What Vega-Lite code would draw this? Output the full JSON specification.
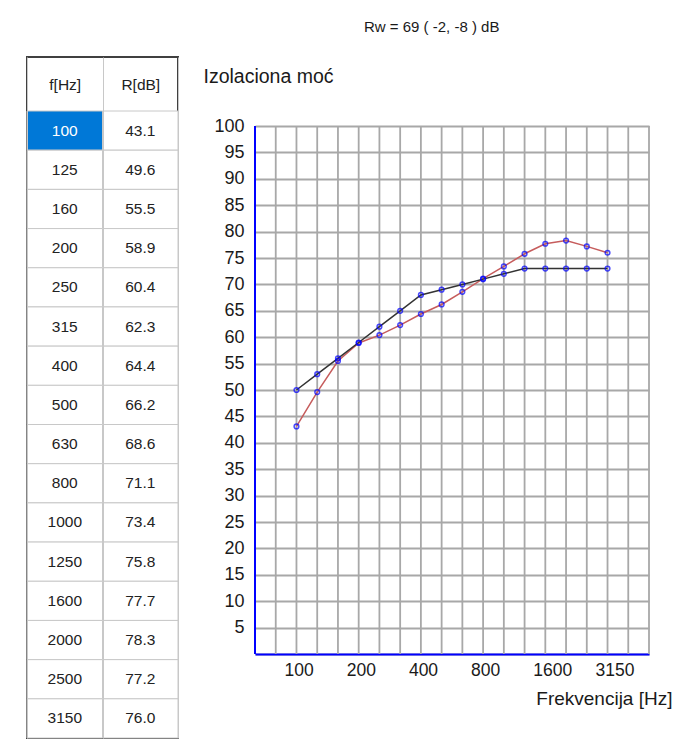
{
  "$schema": "https://vega.github.io/schema/vega-lite/v6.json",
  "background": "white",
  "padding": {"left": 25, "top": 20, "right": 0, "bottom": 0},
  "config": {"font": "Liberation Sans", "axisY": {"labelOverlap": false}},
  "title": {"text": "Rw = 69 ( -2, -8 ) dB", "anchor": "start", "frame": "group", "dx": 337, "offset": 21, "fontSize": 15, "fontWeight": "normal", "color": "#1a1a1a"},
  "datasets": {
    "d": [
      {"f": 100, "R": 43.1, "ref": 50},
      {"f": 125, "R": 49.6, "ref": 53},
      {"f": 160, "R": 55.5, "ref": 56},
      {"f": 200, "R": 58.9, "ref": 59},
      {"f": 250, "R": 60.4, "ref": 62},
      {"f": 315, "R": 62.3, "ref": 65},
      {"f": 400, "R": 64.4, "ref": 68},
      {"f": 500, "R": 66.2, "ref": 69},
      {"f": 630, "R": 68.6, "ref": 70},
      {"f": 800, "R": 71.1, "ref": 71},
      {"f": 1000, "R": 73.4, "ref": 72},
      {"f": 1250, "R": 75.8, "ref": 73},
      {"f": 1600, "R": 77.7, "ref": 73},
      {"f": 2000, "R": 78.3, "ref": 73},
      {"f": 2500, "R": 77.2, "ref": 73},
      {"f": 3150, "R": 76.0, "ref": 73}
    ],
    "grid": [
      {"f": 63}, {"f": 80}, {"f": 100}, {"f": 125}, {"f": 160}, {"f": 200}, {"f": 250}, {"f": 315}, {"f": 400}, {"f": 500},
      {"f": 630}, {"f": 800}, {"f": 1000}, {"f": 1250}, {"f": 1600}, {"f": 2000}, {"f": 2500}, {"f": 3150}, {"f": 4000}, {"f": 5000}
    ]
  },
  "columns": 2,
  "align": "none",
  "spacing": 23,
  "concat": [
    {
      "width": 151,
      "height": 681,
      "data": {"name": "d"},
      "view": {"stroke": "#404040", "strokeWidth": 2},
      "encoding": {
        "y": {"field": "f", "type": "ordinal", "scale": {"type": "band", "paddingInner": 0, "paddingOuter": 0.689, "align": 1}, "axis": null}
      },
      "layer": [
        {
          "mark": {"type": "rect", "stroke": "#c8c8c8", "strokeWidth": 1},
          "encoding": {
            "x": {"datum": "f[Hz]", "type": "nominal",
              "scale": {"type": "band", "domain": ["f[Hz]", "R[dB]"], "paddingInner": 0, "paddingOuter": 0},
              "axis": {"orient": "top", "title": null, "domain": false, "ticks": false, "tickSize": 0, "labelPadding": -27, "labelBaseline": "middle", "labelAngle": 0, "labelFontSize": 15.5, "labelColor": "#222222", "grid": true, "tickBand": "extent", "gridColor": "#c8c8c8", "gridWidth": 1}},
            "fill": {"condition": {"test": "datum.f === 100", "value": "#0078d7"}, "value": "white"}
          }
        },
        {
          "mark": {"type": "rect", "stroke": "#c8c8c8", "strokeWidth": 1, "fill": "white"},
          "encoding": {"x": {"datum": "R[dB]", "type": "nominal"}}
        },
        {
          "mark": {"type": "text", "fontSize": 15.5},
          "encoding": {
            "x": {"datum": "f[Hz]", "type": "nominal"},
            "text": {"field": "f", "type": "nominal"},
            "color": {"condition": {"test": "datum.f === 100", "value": "white"}, "value": "#222222"}
          }
        },
        {
          "mark": {"type": "text", "fontSize": 15.5, "color": "#222222"},
          "encoding": {
            "x": {"datum": "R[dB]", "type": "nominal"},
            "text": {"field": "R", "type": "quantitative", "format": ".1f"}
          }
        }
      ]
    },
    {
      "width": 394,
      "height": 597,
      "view": {"stroke": null},
      "resolve": {"axis": {"y": "independent"}},
      "encoding": {
        "x": {"field": "f", "type": "ordinal",
          "scale": {"type": "point", "padding": 0, "domain": [63, 80, 100, 125, 160, 200, 250, 315, 400, 500, 630, 800, 1000, 1250, 1600, 2000, 2500, 3150, 4000, 5000]},
          "axis": {"title": "Frekvencija [Hz]", "titleFontSize": 19, "titleFontWeight": "normal", "titleColor": "#1a1a1a", "titleAlign": "right", "titleAnchor": "end", "titleX": 417, "titleY": 50, "titleBaseline": "alphabetic",
            "labelAngle": 0, "labelAlign": "left", "labelOffset": -12.5, "labelPadding": 7, "labelFontSize": 17.5, "labelColor": "#1a1a1a", "labelOverlap": false,
            "labelExpr": "indexof([100,200,400,800,1600,3150], datum.value) >= 0 ? datum.label : ''",
            "ticks": false, "tickSize": 0, "domainColor": "#0000ff", "domainWidth": 2, "grid": false}
        }
      },
      "layer": [
        {
          "data": {"name": "grid"},
          "mark": {"type": "rule"},
          "encoding": {
            "y": {"datum": 0, "type": "quantitative",
              "scale": {"domain": [0, 113.07], "nice": false},
              "axis": {"orient": "left", "title": "Izolaciona moć", "titleAngle": 0, "titleAlign": "left", "titleBaseline": "alphabetic", "titleX": -52, "titleY": 25, "titleFontSize": 19.5, "titleFontWeight": "normal", "titleColor": "#1a1a1a",
                "values": [0, 5, 10, 15, 20, 25, 30, 35, 40, 45, 50, 55, 60, 65, 70, 75, 80, 85, 90, 95, 100],
                "labelExpr": "datum.value == 0 ? '' : datum.label", "labelOverlap": false, "ticks": false, "tickSize": 0, "labelPadding": 11, "labelFontSize": 18, "labelColor": "#1a1a1a",
                "domain": false, "grid": true, "gridColor": "#a8a8a8", "gridWidth": 1.8}},
            "y2": {"datum": 100},
            "color": {"condition": {"test": "datum.f === 63", "value": "#0000ff"}, "value": "#a8a8a8"},
            "strokeWidth": {"condition": {"test": "datum.f === 63", "value": 2}, "value": 1.8}
          }
        },
        {
          "data": {"name": "d"},
          "transform": [{"fold": ["R", "ref"], "as": ["series", "value"]}],
          "mark": {"type": "line", "strokeWidth": 1.5},
          "encoding": {
            "y": {"field": "value", "type": "quantitative", "axis": null},
            "color": {"field": "series", "type": "nominal", "scale": {"domain": ["R", "ref"], "range": ["#c65c5c", "#333333"]}, "legend": null}
          }
        },
        {
          "data": {"name": "d"},
          "transform": [{"fold": ["R", "ref"], "as": ["series", "value"]}],
          "mark": {"type": "point", "shape": "circle", "filled": false, "color": "#0000ff", "size": 22, "strokeWidth": 1.5},
          "encoding": {"y": {"field": "value", "type": "quantitative", "axis": null}}
        }
      ]
    }
  ]
}
